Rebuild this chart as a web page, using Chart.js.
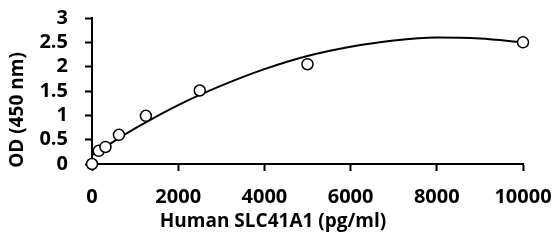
<!DOCTYPE html>
<html>
<head>
<meta charset="utf-8">
<script src="https://cdn.jsdelivr.net/npm/chart.js@4.4.1/dist/chart.umd.min.js"></script>
<style>
  html, body { margin: 0; padding: 0; background: #fff; }
  #wrap { width: 557px; height: 249px; }
</style>
</head>
<body>
<div id="wrap"><canvas id="elisa-chart" width="557" height="249"></canvas></div>
<script>
// standard points (pg/ml -> OD)
const concentrations = [0, 156, 312, 625, 1250, 2500, 5000, 10000];
const odValues = [0, 0.27, 0.35, 0.6, 0.99, 1.51, 2.05, 2.5];

// fitted curve
const curveX = [0, 500, 1000, 2000, 3000, 4000, 5000, 6000, 7000, 8000, 9000, 10000];
const curveY = [0.18, 0.46, 0.73, 1.21, 1.61, 1.95, 2.22, 2.41, 2.54, 2.6, 2.58, 2.5];

const xTicks = [0, 2000, 4000, 6000, 8000, 10000];
const yTicks = [0, 0.5, 1, 1.5, 2, 2.5, 3];

const xTitle = 'Human SLC41A1 (pg/ml)';
const yTitle = 'OD (450 nm)';

const font = '"Open Sans", "DejaVu Sans", sans-serif';

document.addEventListener('DOMContentLoaded', function () {
    const ctx = document.getElementById('elisa-chart').getContext('2d');

    // axis titles sit a bit off-centre in the original, so draw them by hand
    const titles = {
        id: 'axisTitles',
        afterDraw(chart) {
            const c = chart.ctx;
            c.save();
            c.fillStyle = '#000';
            c.font = 'bold 19px ' + font;
            c.textAlign = 'center';
            c.textBaseline = 'middle';
            c.fillText(xTitle, 273, 222);
            c.translate(18, 110);
            c.rotate(-Math.PI / 2);
            c.fillText(yTitle, 0, 0);
            c.restore();
        }
    };

    new Chart(ctx, {
        type: 'scatter',
        data: {
            datasets: [{
                label: 'Standards',
                data: concentrations.map((x, i) => ({ x: x, y: odValues[i] })),
                pointRadius: 5.5,
                pointBorderWidth: 1.5,
                pointBorderColor: '#000',
                pointBackgroundColor: '#fff',
                clip: false
            }, {
                label: 'Fit',
                data: curveX.map((x, i) => ({ x: x, y: curveY[i] })),
                showLine: true,
                borderColor: '#000',
                borderWidth: 2,
                pointRadius: 0,
                tension: 0.4,
                cubicInterpolationMode: 'monotone',
                clip: false
            }]
        },
        options: {
            responsive: false,
            animation: false,
            devicePixelRatio: 1,
            layout: { padding: { top: 18, right: 34, bottom: 0, left: 0 } },
            plugins: {
                legend: { display: false },
                tooltip: { enabled: false }
            },
            scales: {
                x: {
                    type: 'linear',
                    min: 0,
                    max: 10000,
                    afterBuildTicks: s => { s.ticks = xTicks.map(v => ({ value: v })); },
                    afterFit: s => { s.height = 85; s.paddingLeft = 0; s.paddingRight = 0; },
                    grid: { drawOnChartArea: false, drawTicks: true, tickLength: 7, color: '#000', tickWidth: 2 },
                    border: { display: true, color: '#000', width: 2 },
                    ticks: {
                        autoSkip: false,
                        maxRotation: 0,
                        padding: 14,
                        color: '#000',
                        font: { family: font, size: 20, weight: 'bold' },
                        callback: v => String(v)
                    }
                },
                y: {
                    min: 0,
                    max: 3,
                    afterBuildTicks: s => { s.ticks = yTicks.map(v => ({ value: v })); },
                    afterFit: s => { s.width = 92; s.paddingTop = 0; s.paddingBottom = 0; },
                    grid: { drawOnChartArea: false, drawTicks: true, tickLength: 7, color: '#000', tickWidth: 2 },
                    border: { display: true, color: '#000', width: 2 },
                    ticks: {
                        autoSkip: false,
                        padding: 17,
                        color: '#000',
                        font: { family: font, size: 20, weight: 'bold' },
                        callback: v => String(v)
                    }
                }
            }
        },
        plugins: [titles]
    });
});
</script>
</body>
</html>
